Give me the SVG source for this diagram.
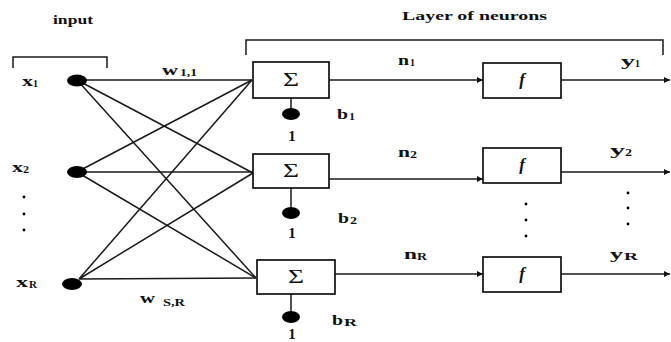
<svg xmlns="http://www.w3.org/2000/svg" width="671" height="342" viewBox="0 0 671 342">
  <defs>
    <marker id="arrow" viewBox="0 0 10 10" refX="10" refY="5" markerWidth="8" markerHeight="6" markerUnits="userSpaceOnUse" orient="auto">
      <path d="M0,0 L10,5 L0,10 z" fill="#111"/>
    </marker>
  </defs>
  <style>
    .t { font-family: "Liberation Serif", "Times New Roman", serif; font-weight: bold; fill: #111; }
    .hd { font-size: 12px; }
    .lb { font-size: 15px; }
    .sb { font-size: 10px; }
    .sig { font-family: "Liberation Serif", "Times New Roman", serif; font-size: 18px; fill: #111; }
    .fn { font-family: "Liberation Serif", "Times New Roman", serif; font-size: 17px; font-weight: bold; font-style: italic; fill: #111; }
    .box { fill: #fff; stroke: #111; stroke-width: 1.7; }
    .wire { fill: none; stroke: #1a1a1a; stroke-width: 1.5; }
    .dot { fill: #000; }
    .br { fill: none; stroke: #1a1a1a; stroke-width: 1.5; }
  </style>

  <!-- headings and brackets -->
  <text class="t hd" x="53" y="24" textLength="40" lengthAdjust="spacingAndGlyphs">input</text>
  <text class="t hd" x="402" y="20" textLength="145" lengthAdjust="spacingAndGlyphs">Layer of neurons</text>
  <path class="br" d="M13,68 V57 H107 V68"/>
  <path class="br" d="M246,55 V40 H663 V55"/>

  <!-- weighted connections from inputs to summing junctions -->
  <g id="connectors">
    <path class="wire" d="M77,80 L252,80 M77,80 L253,173 M77,80 L256,278"/>
    <path class="wire" d="M77,172 L252,80 M77,172 L253,172 M77,172 L256,278"/>
    <path class="wire" d="M79,279 L252,80 M79,279 L253,173 M79,279 L256,278"/>
    <path class="wire" d="M329,80 H483" marker-end="url(#arrow)"/>
    <path class="wire" d="M327,179 H483" marker-end="url(#arrow)"/>
    <path class="wire" d="M330,274 H483" marker-end="url(#arrow)"/>
    <path class="wire" d="M561,80 H670" marker-end="url(#arrow)"/>
    <path class="wire" d="M561,172 H670" marker-end="url(#arrow)"/>
    <path class="wire" d="M561,274 H670" marker-end="url(#arrow)"/>
    <path class="wire" d="M291,98 V114 M291,188 V213 M291,294 V317"/>
  </g>

  <!-- inputs -->
  <g id="input-x1">
    <ellipse class="dot" cx="77" cy="80.5" rx="10" ry="6"/>
    <text class="t lb" x="22" y="86" textLength="11" lengthAdjust="spacingAndGlyphs">x</text>
    <text class="t sb" x="33" y="87" textLength="5" lengthAdjust="spacingAndGlyphs">1</text>
  </g>
  <g id="input-x2">
    <ellipse class="dot" cx="77" cy="172" rx="10" ry="6"/>
    <text class="t lb" x="12" y="172" textLength="11" lengthAdjust="spacingAndGlyphs">x</text>
    <text class="t sb" x="23" y="173" textLength="6" lengthAdjust="spacingAndGlyphs">2</text>
  </g>
  <g id="input-ellipsis">
    <circle class="dot" cx="24" cy="197" r="1.4"/>
    <circle class="dot" cx="24" cy="214" r="1.4"/>
    <circle class="dot" cx="24" cy="230" r="1.4"/>
  </g>
  <g id="input-xR">
    <ellipse class="dot" cx="72" cy="284" rx="10" ry="6"/>
    <text class="t lb" x="16" y="287" textLength="12" lengthAdjust="spacingAndGlyphs">x</text>
    <text class="t sb" x="29" y="288" textLength="8" lengthAdjust="spacingAndGlyphs">R</text>
  </g>

  <!-- weight labels -->
  <g id="weight-labels">
    <text class="t lb" x="162" y="75" textLength="16" lengthAdjust="spacingAndGlyphs">w</text>
    <text class="t sb" x="180" y="76" textLength="17" lengthAdjust="spacingAndGlyphs">1,1</text>
    <text class="t lb" x="140" y="303" textLength="15" lengthAdjust="spacingAndGlyphs">w</text>
    <text class="t sb" x="163" y="306" textLength="22" lengthAdjust="spacingAndGlyphs">S,R</text>
  </g>

  <!-- neuron 1 -->
  <g id="sum-1">
    <rect class="box" x="253" y="62" width="76" height="36"/>
    <text class="sig" x="283" y="86" textLength="16" lengthAdjust="spacingAndGlyphs">Σ</text>
  </g>
  <g id="bias-1">
    <ellipse class="dot" cx="291" cy="114" rx="9" ry="6"/>
    <text class="t lb" x="292" y="141" text-anchor="middle">1</text>
    <text class="t lb" x="337" y="119" textLength="11" lengthAdjust="spacingAndGlyphs">b</text>
    <text class="t sb" x="349" y="120" textLength="6" lengthAdjust="spacingAndGlyphs">1</text>
  </g>
  <g id="transfer-1">
    <rect class="box" x="483" y="63" width="78" height="35"/>
    <text class="fn" x="522" y="85" text-anchor="middle">f</text>
  </g>
  <text class="t lb" x="398" y="65" textLength="11" lengthAdjust="spacingAndGlyphs">n</text>
  <text class="t sb" x="410" y="66" textLength="5" lengthAdjust="spacingAndGlyphs">1</text>
  <text class="t lb" x="621" y="66" textLength="14" lengthAdjust="spacingAndGlyphs">y</text>
  <text class="t sb" x="635" y="67" textLength="5" lengthAdjust="spacingAndGlyphs">1</text>

  <!-- neuron 2 -->
  <g id="sum-2">
    <rect class="box" x="253" y="154" width="76" height="34"/>
    <text class="sig" x="283" y="177" textLength="16" lengthAdjust="spacingAndGlyphs">Σ</text>
  </g>
  <g id="bias-2">
    <ellipse class="dot" cx="291" cy="213" rx="9" ry="6"/>
    <text class="t lb" x="292" y="238" text-anchor="middle">1</text>
    <text class="t lb" x="338" y="223" textLength="11" lengthAdjust="spacingAndGlyphs">b</text>
    <text class="t sb" x="350" y="224" textLength="7" lengthAdjust="spacingAndGlyphs">2</text>
  </g>
  <g id="transfer-2">
    <rect class="box" x="483" y="148" width="78" height="35"/>
    <text class="fn" x="522" y="170" text-anchor="middle">f</text>
  </g>
  <text class="t lb" x="398" y="157" textLength="12" lengthAdjust="spacingAndGlyphs">n</text>
  <text class="t sb" x="410" y="158" textLength="7" lengthAdjust="spacingAndGlyphs">2</text>
  <text class="t lb" x="610" y="155" textLength="15" lengthAdjust="spacingAndGlyphs">y</text>
  <text class="t sb" x="625" y="156" textLength="7" lengthAdjust="spacingAndGlyphs">2</text>

  <!-- ellipsis between neuron rows -->
  <g id="layer-ellipsis">
    <circle class="dot" cx="526" cy="204" r="1.4"/>
    <circle class="dot" cx="526" cy="220" r="1.4"/>
    <circle class="dot" cx="526" cy="236" r="1.4"/>
    <circle class="dot" cx="628" cy="193" r="1.4"/>
    <circle class="dot" cx="628" cy="208" r="1.4"/>
    <circle class="dot" cx="628" cy="224" r="1.4"/>
  </g>

  <!-- neuron R -->
  <g id="sum-R">
    <rect class="box" x="257" y="260" width="78" height="34"/>
    <text class="sig" x="288" y="283" textLength="16" lengthAdjust="spacingAndGlyphs">Σ</text>
  </g>
  <g id="bias-R">
    <ellipse class="dot" cx="291" cy="317" rx="9" ry="6"/>
    <text class="t lb" x="292" y="339" text-anchor="middle">1</text>
    <text class="t lb" x="332" y="325" textLength="11" lengthAdjust="spacingAndGlyphs">b</text>
    <text class="t sb" x="344" y="326" textLength="13" lengthAdjust="spacingAndGlyphs">R</text>
  </g>
  <g id="transfer-R">
    <rect class="box" x="483" y="257" width="78" height="35"/>
    <text class="fn" x="522" y="279" text-anchor="middle">f</text>
  </g>
  <text class="t lb" x="404" y="259" textLength="13" lengthAdjust="spacingAndGlyphs">n</text>
  <text class="t sb" x="417" y="260" textLength="10" lengthAdjust="spacingAndGlyphs">R</text>
  <text class="t lb" x="610" y="259" textLength="13" lengthAdjust="spacingAndGlyphs">y</text>
  <text class="t sb" x="624" y="260" textLength="14" lengthAdjust="spacingAndGlyphs">R</text>
</svg>
